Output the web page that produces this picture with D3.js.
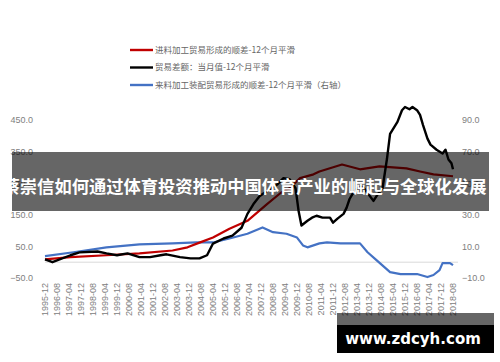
<!DOCTYPE html>
<html>
<head>
<meta charset="utf-8">
<script src="https://cdn.jsdelivr.net/npm/d3@7/dist/d3.min.js"></script>
<style>
  body { margin: 0; background: #fff; }
  svg { display: block; }
</style>
</head>
<body>
<div id="chart"></div>
<script>
// legend names
const seriesNames = [
  '进料加工贸易形成的顺差-12个月平滑',
  '贸易差额：当月值-12个月平滑',
  '来料加工装配贸易形成的顺差-12个月平滑（右轴）'
];
const seriesColors = ['#c00000', '#000000', '#4472c4'];

// red: 进料加工 (left axis)
const redDates = ['1995-12','1997-05','1999-05','2001-03','2003-01','2003-11','2004-07','2005-04','2006-03','2007-03',
  '2008-04','2009-01','2009-07','2010-02','2010-11','2011-03','2012-06','2013-06','2014-07','2016-01','2016-10','2017-07','2018-08'];
const redValues = [9,16,22,28,37,47,62,78,106,131,184,219,234,266,278,287,309,294,303,297,287,278,272];

// black: 贸易差额 (left axis)
const blackDates = ['1995-12','1996-05','1997-05','1997-11','1998-11','1999-05','1999-12','2000-07','2001-03','2001-10',
  '2002-05','2002-09','2003-06','2004-01','2004-07','2004-12','2005-04','2005-11','2006-05','2006-11','2007-03','2007-07',
  '2007-11','2008-04','2008-11','2009-03','2009-07','2009-11','2010-01','2010-03','2010-07','2010-10','2011-01','2011-05',
  '2011-10','2011-12','2012-03','2012-07','2012-09','2012-11','2013-01','2013-04','2013-08','2013-11','2014-03','2014-06',
  '2014-09','2014-12','2015-02','2015-07','2015-10','2015-12','2016-03','2016-05','2016-08','2016-10','2016-12','2017-03',
  '2017-05','2017-09','2018-01','2018-03','2018-05','2018-07','2018-08'];
const blackValues = [9,0,22,31,34,28,22,28,16,16,22,25,16,12,12,22,59,75,84,109,153,184,209,225,247,266,263,234,163,116,
  131,141,147,141,141,125,138,153,172,200,216,234,238,219,194,216,234,328,406,444,481,491,484,491,481,466,434,391,372,
  356,344,356,325,313,294];

// blue: 来料加工装配 (right axis)
const blueDates = ['1995-12','1997-07','1999-05','2001-03','2003-01','2004-05','2005-04','2006-03','2007-03','2008-01',
  '2008-08','2009-05','2009-12','2010-04','2010-07','2011-03','2011-08','2012-05','2013-06','2013-11','2014-05','2015-02',
  '2015-09','2016-08','2017-03','2017-07','2017-11','2018-01','2018-06','2018-08'];
const blueValues = [3.8,6.3,9.4,11.3,11.9,12.5,12.5,15,18,22,19,18,15.6,10.6,9.4,11.9,12.5,11.9,11.9,6.3,1.3,-6.3,
  -7.5,-7.5,-9.4,-8.1,-5,-0.6,-0.6,-1.9];

const leftTicks = [-50, 50, 150, 250, 350, 450];
const rightTicks = [-10, 10, 30, 50, 70, 90];
const firstMonth = '1995-12', lastMonth = '2018-08';

const bannerText = '蔡崇信如何通过体育投资推动中国体育产业的崛起与全球化发展';
const watermarkText = 'www.zdcyh.com';

const width = 500, height = 362;
const parse = d3.timeParse('%Y-%m');
const fmt = d3.timeFormat('%Y-%m');

const svg = d3.select('#chart').append('svg')
  .attr('width', width).attr('height', height);

const x = d3.scaleTime()
  .domain([parse(firstMonth), parse(lastMonth)])
  .range([45, 453]);
const yL = d3.scaleLinear().domain([-50, 450]).range([278, 120]);
const yR = d3.scaleLinear().domain([-10, 90]).range([278, 120]);

const labelFont = '"Liberation Sans", "DejaVu Sans", sans-serif';
const cjkFont = '"Noto Sans CJK SC", sans-serif';

// zero line
svg.append('line')
  .attr('x1', 45).attr('x2', 458)
  .attr('y1', yL(0)).attr('y2', yL(0))
  .attr('stroke', '#d9d9d9').attr('stroke-width', 1);

// left axis
const axL = svg.append('g').attr('transform', 'translate(33,0)')
  .call(d3.axisLeft(yL).tickValues(leftTicks).tickFormat(d3.format('.1f')).tickSize(0).tickPadding(0));
axL.select('.domain').remove();
axL.selectAll('text').attr('fill', '#808080').style('font', `9px ${labelFont}`);

// right axis
const axR = svg.append('g').attr('transform', 'translate(462,0)')
  .call(d3.axisRight(yR).tickValues(rightTicks).tickFormat(d3.format('.1f')).tickSize(0).tickPadding(0));
axR.select('.domain').remove();
axR.selectAll('text').attr('fill', '#808080').style('font', `9px ${labelFont}`);

// bottom axis: one label every 8 months
const xTicks = d3.timeMonth.range(parse(firstMonth), d3.timeMonth.offset(parse(lastMonth), 1), 8);
const axB = svg.append('g').attr('transform', 'translate(0,282)')
  .call(d3.axisBottom(x).tickValues(xTicks).tickFormat(fmt).tickSize(0).tickPadding(0));
axB.select('.domain').remove();
axB.selectAll('text')
  .attr('fill', '#808080').style('font', `9px ${labelFont}`)
  .attr('text-anchor', 'end')
  .attr('transform', 'rotate(-90)')
  .attr('x', -1).attr('y', 0).attr('dy', '0.32em');

// lines
const lineL = d3.line().x(d => x(d[0])).y(d => yL(d[1])).curve(d3.curveLinear);
const lineR = d3.line().x(d => x(d[0])).y(d => yR(d[1])).curve(d3.curveLinear);

const redData = redDates.map((d, i) => [parse(d), redValues[i]]);
const blackData = blackDates.map((d, i) => [parse(d), blackValues[i]]);
const blueData = blueDates.map((d, i) => [parse(d), blueValues[i]]);

svg.append('path').datum(blueData).attr('d', lineR)
  .attr('fill', 'none').attr('stroke', seriesColors[2]).attr('stroke-width', 2.2).attr('stroke-linejoin', 'round');
svg.append('path').datum(redData).attr('d', lineL)
  .attr('fill', 'none').attr('stroke', seriesColors[0]).attr('stroke-width', 2.2).attr('stroke-linejoin', 'round');
svg.append('path').datum(blackData).attr('d', lineL)
  .attr('fill', 'none').attr('stroke', seriesColors[1]).attr('stroke-width', 2.4).attr('stroke-linejoin', 'round');

// legend
const legend = svg.append('g').attr('transform', 'translate(130,50)');
seriesNames.forEach((name, i) => {
  const g = legend.append('g').attr('transform', `translate(0,${i * 17.5})`);
  g.append('line').attr('x1', 0).attr('x2', 23).attr('y1', 0).attr('y2', 0)
    .attr('stroke', seriesColors[i]).attr('stroke-width', 2.4);
  g.append('text').attr('x', 25).attr('y', 0).attr('dy', '0.35em')
    .attr('fill', '#666').style('font', `8.5px ${cjkFont}`).text(name);
});

// banner overlay
svg.append('rect').attr('x', 12).attr('y', 152).attr('width', 477).attr('height', 59)
  .attr('fill', 'rgba(0,0,0,0.6)');
svg.append('text').attr('x', 244.5).attr('y', 187).attr('dy', '0.35em')
  .attr('text-anchor', 'middle').attr('fill', '#fff')
  .style('font', `bold 17.3px ${cjkFont}`).text(bannerText);

// watermark
svg.append('rect').attr('x', 337).attr('y', 313).attr('width', 157).attr('height', 12)
  .attr('fill', 'rgba(0,0,0,0.6)');
svg.append('rect').attr('x', 337).attr('y', 325).attr('width', 157).attr('height', 28)
  .attr('fill', '#000');
svg.append('text').attr('x', 413).attr('y', 339).attr('dy', '0.35em')
  .attr('text-anchor', 'middle').attr('fill', '#fff')
  .style('font', 'bold 15px "DejaVu Sans", sans-serif').text(watermarkText);
</script>
</body>
</html>
